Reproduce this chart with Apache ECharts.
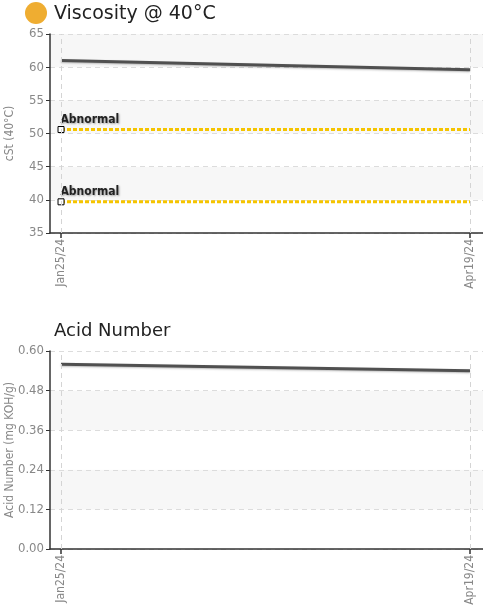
<!DOCTYPE html>
<html><head><meta charset="utf-8">
<script src="https://cdn.jsdelivr.net/npm/echarts@6/dist/echarts.min.js"></script>
<style>html,body{margin:0;padding:0;background:#fff}#c{width:483px;height:613px}</style>
</head><body><div id="c"></div>
<script>
// ---- data ----
const dates = ['2024-01-25', '2024-04-19'];
const dateLabels = ['Jan25/24', 'Apr19/24'];
const viscosity = [61.0, 59.6];
const viscAbnormalHigh = 50.6;
const viscAbnormalLow = 39.7;
const acidNumber = [0.56, 0.54];
const viscAxis = { min: 35, max: 65, interval: 5 };
const acidAxis = { min: 0, max: 0.6, interval: 0.12 };

// ---- build ----
const DAY = 86400000;
const tsDays = dates.map(d => Math.round(new Date(d + 'T00:00:00Z').getTime() / DAY));
const padLeft = 2.29, padRight = 2.7;
const NARROW = '"Liberation Sans Narrow","DejaVu Sans Condensed","Roboto Condensed",sans-serif';
const TITLE = '"DejaVu Sans",Verdana,sans-serif';

function labelFor(v) {
  let best = 0, bd = Infinity;
  tsDays.forEach((t, i) => { const d = Math.abs(t - v); if (d < bd) { bd = d; best = i; } });
  return dateLabels[best];
}

function xAxis(gi) {
  return {
    type: 'value', gridIndex: gi,
    min: tsDays[0] - padLeft, max: tsDays[tsDays.length - 1] + padRight,
    axisLine: { show: true, onZero: false, lineStyle: { color: '#333', width: 1.5 } },
    axisTick: { show: true, customValues: tsDays, length: 5, lineStyle: { color: '#333', width: 1.5 } },
    axisLabel: { customValues: tsDays, rotate: 90, formatter: labelFor, color: '#888', fontSize: 12, fontFamily: NARROW, margin: 6 },
    splitLine: { show: false }
  };
}
function yAxis(gi, cfg, name, fmt) {
  return {
    type: 'value', gridIndex: gi, min: cfg.min, max: cfg.max, interval: cfg.interval,
    name: name, nameLocation: 'middle', nameGap: 34, nameMoveOverlap: false,
    nameTextStyle: { color: '#888', fontSize: 12, fontFamily: NARROW },
    axisLine: { show: true, lineStyle: { color: '#333', width: 1.5 } },
    axisTick: { show: true, length: 4, lineStyle: { color: '#333' } },
    axisLabel: { color: '#888', fontSize: 13, fontFamily: NARROW, margin: 6, formatter: fmt },
    splitLine: { show: true, lineStyle: { color: '#dcdcdc', type: [5, 4] } },
    splitArea: { show: true, areaStyle: { color: ['#ffffff', '#f7f7f7'] } }
  };
}
function vGrid() {
  return {
    silent: true, symbol: 'none', label: { show: false },
    lineStyle: { color: '#d4d4d4', type: [5, 4], width: 1 },
    data: tsDays.map(t => ({ xAxis: t }))
  };
}
function mainSeries(gi, vals) {
  return {
    type: 'line', xAxisIndex: gi, yAxisIndex: gi,
    data: vals.map((v, i) => [tsDays[i], v]),
    showSymbol: false, symbol: 'none',
    lineStyle: { color: '#505050', width: 3, shadowColor: 'rgba(0,0,0,0.25)', shadowBlur: 2, shadowOffsetY: 1 },
    markLine: vGrid(), z: 3
  };
}
function abnormalSeries(gi, level) {
  return {
    type: 'line', xAxisIndex: gi, yAxisIndex: gi, z: 4,
    data: [
      { value: [tsDays[0], level], symbol: 'rect', symbolSize: 6,
        label: { show: true, formatter: 'Abnormal', position: [3, -12], color: '#222', fontSize: 12, fontWeight: 'bold', fontFamily: NARROW,
                 textShadowColor: 'rgba(0,0,0,0.35)', textShadowBlur: 2, textShadowOffsetX: 1, textShadowOffsetY: 1 } },
      { value: [tsDays[tsDays.length - 1], level], symbol: 'none' }
    ],
    showSymbol: true,
    itemStyle: { color: '#fff', borderColor: '#000', borderWidth: 1 },
    lineStyle: { color: '#f5c400', width: 3, type: [4, 2] },
    emphasis: { disabled: true }
  };
}

const chart = echarts.init(document.getElementById('c'), null, { renderer: 'canvas' });
chart.setOption({
  animation: false,
  graphic: [{ type: 'circle', shape: { cx: 36, cy: 13, r: 11 }, style: { fill: '#efad31' } }],
  title: [
    { text: 'Viscosity @ 40°C', left: 54, top: 5, padding: 0, textStyle: { fontSize: 19, fontWeight: 'normal', color: '#222', fontFamily: TITLE } },
    { text: 'Acid Number', left: 54, top: 322, padding: 0, textStyle: { fontSize: 18, fontWeight: 'normal', color: '#222', fontFamily: TITLE } }
  ],
  grid: [
    { left: 50, right: 0, top: 34, height: 199, containLabel: false, outerBoundsMode: 'none' },
    { left: 50, right: 0, top: 351, height: 198, containLabel: false, outerBoundsMode: 'none' }
  ],
  xAxis: [xAxis(0), xAxis(1)],
  yAxis: [
    yAxis(0, viscAxis, 'cSt (40°C)', v => String(Math.round(v))),
    yAxis(1, acidAxis, 'Acid Number (mg KOH/g)', v => v.toFixed(2))
  ],
  series: [
    mainSeries(0, viscosity),
    abnormalSeries(0, viscAbnormalHigh),
    abnormalSeries(0, viscAbnormalLow),
    mainSeries(1, acidNumber)
  ]
});
</script></body></html>
